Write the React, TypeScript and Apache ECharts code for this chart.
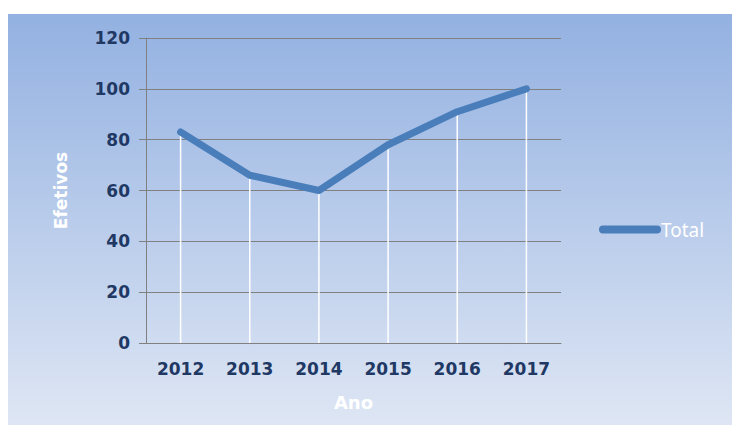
import React, { useEffect, useRef } from "react";
import * as echarts from "echarts";

const years = ["2012", "2013", "2014", "2015", "2016", "2017"];
const totals = [83, 66, 60, 78, 91, 100];
const yTicks = { min: 0, max: 120, interval: 20 };

export default function App() {
  const ref = useRef<HTMLDivElement>(null);
  useEffect(() => {
    if (!ref.current) return;
    const chart = echarts.init(ref.current, undefined, { renderer: "svg" });
    const navy = "#1f3864";
    const gray = "#808080";
    chart.setOption({
      animation: false,
      graphic: [
        {
          type: "rect",
          z: -10,
          silent: true,
          shape: { x: 8, y: 14, width: 724, height: 411 },
          style: {
            fill: new echarts.graphic.LinearGradient(0, 0, 0, 1, [
              { offset: 0, color: "#93b1e1" },
              { offset: 1, color: "#dee6f4" },
            ]),
          },
        },
      ],
      grid: { left: 146, right: 171, top: 38, bottom: 93, containLabel: false },
      legend: {
        data: ["Total"],
        left: 594,
        top: 215,
        orient: "vertical",
        icon: "path://M4,0 L58,0 A4,4 0 0 1 58,8 L4,8 A4,4 0 0 1 4,0 Z",
        itemWidth: 62,
        itemHeight: 8,
        itemGap: 4,
        textStyle: { color: "#ffffff", fontSize: 19, fontFamily: "Noto Sans", padding: [0, 0, 0, -5] },
      },
      xAxis: {
        type: "category",
        data: years,
        boundaryGap: true,
        name: "Ano",
        nameLocation: "middle",
        nameGap: 50,
        nameTextStyle: { color: "#ffffff", fontSize: 18, fontWeight: "bold", fontFamily: "DejaVu Sans" },
        axisLine: { show: true, lineStyle: { color: gray, width: 1 } },
        axisTick: { show: false },
        axisLabel: { color: navy, fontSize: 17, fontWeight: "bold", fontFamily: "DejaVu Sans", margin: 17 },
        splitLine: { show: false },
      },
      yAxis: {
        type: "value",
        min: yTicks.min,
        max: yTicks.max,
        interval: yTicks.interval,
        name: "Efetivos",
        nameLocation: "middle",
        nameGap: 77,
        nameTextStyle: { color: "#ffffff", fontSize: 17, fontWeight: "bold", fontFamily: "DejaVu Sans" },
        axisLine: { show: true, lineStyle: { color: gray, width: 1 } },
        axisTick: { show: true, length: 7, lineStyle: { color: gray } },
        axisLabel: { color: navy, fontSize: 17, fontWeight: "bold", fontFamily: "DejaVu Sans", margin: 16 },
        splitLine: { show: true, lineStyle: { color: gray, width: 1 } },
      },
      series: [
        {
          name: "drop",
          type: "bar",
          data: totals,
          barWidth: 1.5,
          itemStyle: { color: "#ffffff" },
          silent: true,
          z: 1,
        },
        {
          name: "Total",
          type: "line",
          data: totals,
          showSymbol: false,
          symbol: "none",
          lineStyle: { color: "#4a7ebb", width: 7, cap: "round", join: "round" },
          itemStyle: { color: "#4a7ebb" },
          z: 3,
        },
      ],
    });
    return () => chart.dispose();
  }, []);
  return (
    <div
      ref={ref}
      style={{ position: "absolute", left: 0, top: 0, width: 732, height: 436 }}
    />
  );
}
